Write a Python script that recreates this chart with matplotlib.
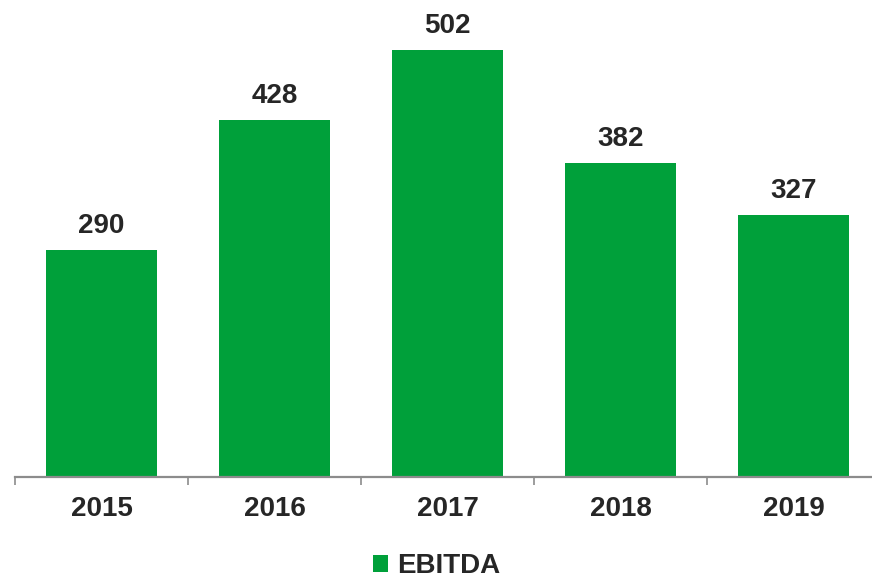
import matplotlib
matplotlib.use("Agg")
import matplotlib.pyplot as plt
from matplotlib.patches import Patch

years = ["2015", "2016", "2017", "2018", "2019"]
ebitda = [290, 428, 502, 382, 327]

bar_green = "#00A03A"
text_dark = "#262626"
axis_grey = "#8C8C8C"

plt.rcParams["font.family"] = ["Liberation Sans", "DejaVu Sans"]
plt.rcParams["font.weight"] = "bold"

fig = plt.figure(figsize=(8.72, 5.78), dpi=100)
ax = fig.add_axes([15 / 872, 101.5 / 578, 865 / 872, 476.5 / 578])

x = list(range(len(years)))
bars = ax.bar(x, ebitda, width=0.647, color=bar_green, zorder=2)

ax.set_xlim(-0.5, len(years) - 0.5)
ax.set_ylim(50, 555)

for rect, val in zip(bars, ebitda):
    ax.annotate(str(val), (rect.get_x() + rect.get_width() / 2, val),
                xytext=(0, 12.2), textcoords="offset points",
                ha="center", va="baseline", fontsize=20,
                fontweight="bold", color=text_dark, annotation_clip=False)

# category labels at bar centres, tick marks on the boundaries
ax.set_xticks(x)
ax.set_xticklabels(years, fontsize=20, fontweight="bold", color=text_dark)
ax.tick_params(axis="x", which="major", length=0, pad=14)
ax.set_xticks([i - 0.5 for i in range(len(years) + 1)], minor=True)
ax.tick_params(axis="x", which="minor", length=6, width=1.2,
               color=axis_grey, direction="out")

ax.set_yticks([])
for side in ["top", "right", "left"]:
    ax.spines[side].set_visible(False)
ax.spines["bottom"].set_color(axis_grey)
ax.spines["bottom"].set_linewidth(1.6)

handle = Patch(facecolor=bar_green, edgecolor="none")
fig.legend([handle], ["EBITDA"], loc="center", bbox_to_anchor=(0.5006, 0.020),
           frameon=False, handlelength=0.54, handleheight=0.54,
           handletextpad=0.3, borderpad=0, labelcolor=text_dark,
           prop={"weight": "bold", "size": 20})

fig.savefig("out.png", dpi=100)
